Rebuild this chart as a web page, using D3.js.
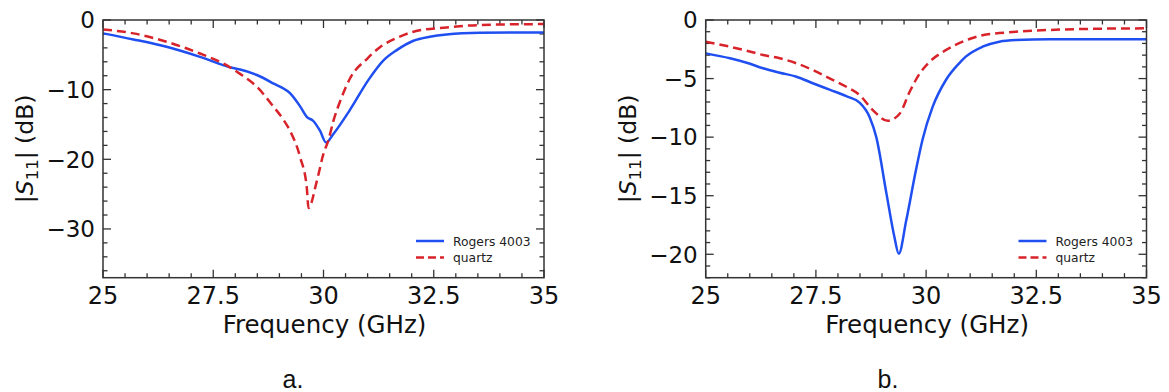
<!DOCTYPE html>
<html><head><meta charset="utf-8">
<script src="https://cdn.jsdelivr.net/npm/d3@7"></script>
<style>body{margin:0;background:#fff;} svg{display:block;}</style>
</head><body>
<svg id="c" width="1169" height="392"></svg>
<script>
// ---- Data (panel a) ----
const aRogersF = [25,25.69,26.44,27.2,27.95,28.11,28.49,28.86,29.24,29.47,29.62,29.77,29.92,30.06,30.22,30.6,31.02,31.36,31.66,32.04,32.41,32.79,33.55,35];
const aRogersV = [-1.92,-2.79,-3.85,-5.29,-6.9,-7.1,-7.9,-9.1,-10.5,-12.4,-13.9,-14.5,-15.9,-17.6,-16.4,-12.9,-8.6,-5.8,-4.33,-2.98,-2.4,-2.07,-1.83,-1.78];
const aQuartzF = [25,25.69,26.44,27.2,27.8,28.1,28.49,28.86,29.1,29.24,29.47,29.62,29.66,29.85,30.0,30.11,30.22,30.4,30.6,31.0,31.28,31.73,32.04,32.79,33.55,35];
const aQuartzV = [-1.35,-1.92,-3.13,-4.81,-6.49,-7.7,-9.6,-12.4,-14.4,-15.9,-19.7,-24.0,-27.0,-23.1,-19.2,-17.3,-14.6,-11.3,-8.4,-5.5,-3.9,-2.4,-1.68,-1.06,-0.72,-0.58];
// ---- Data (panel b) ----
const bRogersF = [25,25.55,25.93,26.3,26.68,27.06,27.43,27.81,28.19,28.49,28.72,28.87,29.1,29.28,29.38,29.55,29.77,29.92,30.15,30.45,30.75,30.9,31.28,31.66,32.04,32.79,35];
const bRogersV = [-2.85,-3.27,-3.65,-4.12,-4.5,-4.84,-5.4,-5.95,-6.5,-7.05,-8.3,-10.0,-14.8,-18.5,-19.95,-17.1,-12.8,-10.2,-7.4,-5.12,-3.7,-3.13,-2.28,-1.85,-1.71,-1.65,-1.65];
const bQuartzF = [25,25.55,25.93,26.3,26.68,27.06,27.43,27.81,28.19,28.49,28.79,29.13,29.4,29.63,29.85,30.07,30.37,30.68,31.0,31.28,31.66,32.04,32.79,33.54,35];
const bQuartzV = [-1.85,-2.28,-2.62,-2.99,-3.27,-3.7,-4.27,-4.98,-5.7,-6.4,-7.69,-8.6,-8.0,-6.1,-4.6,-3.6,-2.75,-2.1,-1.6,-1.3,-1.12,-1.0,-0.85,-0.77,-0.71];
// ---- Tick labels ----
const xTicks = [25,27.5,30,32.5,35];
const xTickLabels = ["25","27.5","30","32.5","35"];
const aYTicks = [0,-10,-20,-30];
const bYTicks = [0,-5,-10,-15,-20];
const seriesNames = ["Rogers 4003","quartz"];
const captions = ["a.","b."];

const svg = d3.select("#c");
const BLUE = "#1f4ff0", RED = "#d8232a", AX = "#333";

function panel(cfg){
  const g = svg.append("g");
  const x = d3.scaleLinear().domain([25,35]).range([cfg.left, cfg.right]);
  const y = d3.scaleLinear().domain([cfg.ymin,0]).range([cfg.bottom, cfg.top]);
  const fmt = v => v < 0 ? "\u2212" + Math.abs(v) : String(v);
  const xMinor = d3.range(25,35.001,0.5);
  const yMinor = d3.range(Math.ceil(cfg.ymin/cfg.minorY)*cfg.minorY, 0.001, cfg.minorY);
  const tk = g.append("g").attr("stroke",AX).attr("stroke-width",1.3);
  xMinor.forEach(v=>{
    const major = xTicks.includes(+v.toFixed(2));
    const L = major?8:4.5;
    tk.append("line").attr("x1",x(v)).attr("x2",x(v)).attr("y1",cfg.bottom).attr("y2",cfg.bottom-L);
    tk.append("line").attr("x1",x(v)).attr("x2",x(v)).attr("y1",cfg.top).attr("y2",cfg.top+L);
  });
  yMinor.forEach(v=>{
    const major = cfg.yTicks.includes(Math.round(v));
    const L = major?8:4.5;
    tk.append("line").attr("y1",y(v)).attr("y2",y(v)).attr("x1",cfg.left).attr("x2",cfg.left+L);
    tk.append("line").attr("y1",y(v)).attr("y2",y(v)).attr("x1",cfg.right).attr("x2",cfg.right-L);
  });
  const line = (F,V) => d3.line().x((d,i)=>x(F[i])).y((d,i)=>y(V[i])).curve(d3.curveMonotoneX)(F);
  g.append("path").attr("d",line(cfg.rF,cfg.rV)).attr("fill","none").attr("stroke",BLUE).attr("stroke-width",2.5).attr("stroke-linejoin","round");
  g.append("path").attr("d",line(cfg.qF,cfg.qV)).attr("fill","none").attr("stroke",RED).attr("stroke-width",2.5).attr("stroke-dasharray","9,5");
  g.append("rect").attr("x",cfg.left).attr("y",cfg.top).attr("width",cfg.right-cfg.left).attr("height",cfg.bottom-cfg.top)
    .attr("fill","none").attr("stroke",AX).attr("stroke-width",1.5);
  const tl = g.append("g").attr("font-family","DejaVu Sans").attr("fill","#111");
  xTicks.forEach((v,i)=>{
    tl.append("text").attr("x",x(v)).attr("y",cfg.bottom+26).attr("font-size",24).attr("text-anchor","middle").text(xTickLabels[i]);
  });
  cfg.yTicks.forEach(v=>{
    tl.append("text").attr("x",cfg.left-8).attr("y",y(v)).attr("font-size",23).attr("dy","0.36em").attr("text-anchor","end").text(fmt(v));
  });
  tl.append("text").attr("x",(cfg.left+cfg.right)/2+1).attr("y",333).attr("font-size",24.5).attr("text-anchor","middle").text("Frequency (GHz)");
  const yl = tl.append("text").attr("font-size",23.5).attr("transform",`translate(${cfg.left-70},${(cfg.top+cfg.bottom)/2}) rotate(-90)`).attr("text-anchor","middle");
  yl.append("tspan").text("|");
  yl.append("tspan").attr("font-style","italic").text("S");
  yl.append("tspan").attr("font-size",16.5).attr("dy",5).text("11");
  yl.append("tspan").attr("dy",-5).text("| (dB)");
  const lg = g.append("g").attr("font-family","DejaVu Sans").attr("font-size",12.3).attr("fill","#222");
  const lx = cfg.right - 128;
  lg.append("line").attr("x1",lx).attr("x2",lx+28).attr("y1",241).attr("y2",241).attr("stroke",BLUE).attr("stroke-width",2.5);
  lg.append("line").attr("x1",lx).attr("x2",lx+28).attr("y1",257.5).attr("y2",257.5).attr("stroke",RED).attr("stroke-width",2.5).attr("stroke-dasharray","8,4");
  lg.append("text").attr("x",lx+37).attr("y",245.5).text(seriesNames[0]);
  lg.append("text").attr("x",lx+37).attr("y",261.5).text(seriesNames[1]);
  svg.append("text").attr("x",cfg.capX).attr("y",388).attr("text-anchor","middle").attr("font-family","Liberation Sans").attr("font-size",25).attr("fill","#111").text(cfg.caption);
}

panel({left:103,right:544,top:20,bottom:277.7,ymin:-37,minorY:2,yTicks:aYTicks,
  rF:aRogersF,rV:aRogersV,qF:aQuartzF,qV:aQuartzV,capX:293,caption:captions[0]});
panel({left:705.7,right:1146.5,top:20,bottom:277.7,ymin:-22,minorY:1,yTicks:bYTicks,
  rF:bRogersF,rV:bRogersV,qF:bQuartzF,qV:bQuartzV,capX:888,caption:captions[1]});
</script>
</body></html>
